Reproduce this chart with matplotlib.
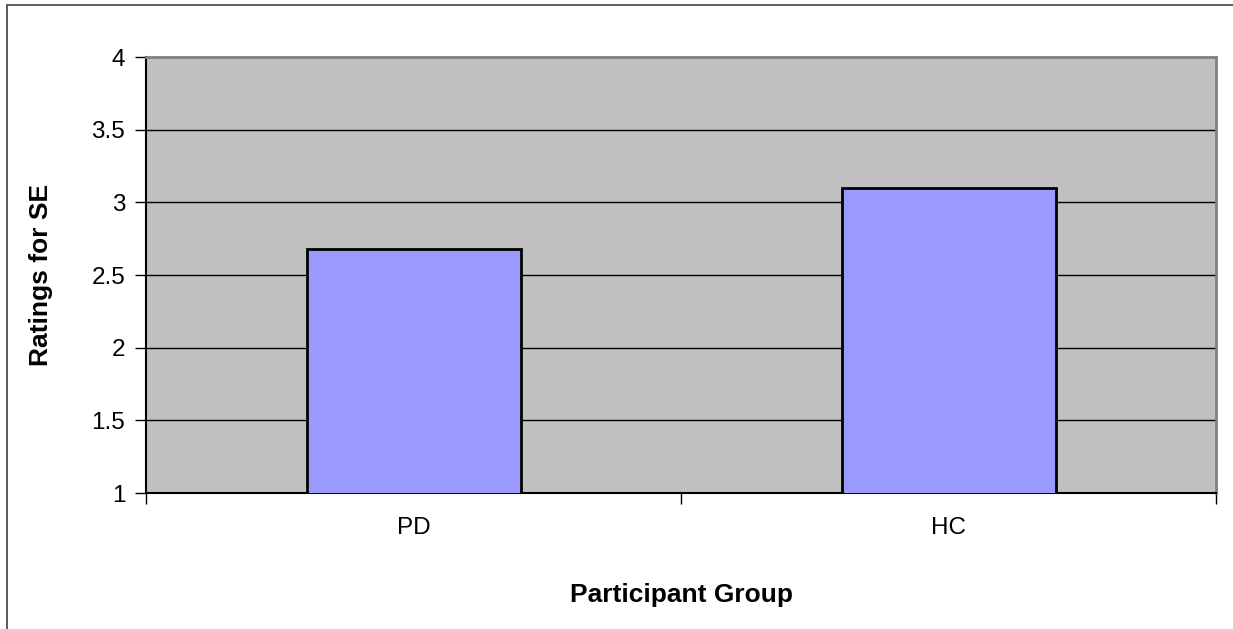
import numpy as np
import matplotlib.pyplot as plt
from matplotlib.patches import Rectangle

# ratings per participant group
groups = ["PD", "HC"]
ratings = [2.68, 3.10]
y_ticks = [1, 1.5, 2, 2.5, 3, 3.5, 4]
y_tick_labels = ["1", "1.5", "2", "2.5", "3", "3.5", "4"]

plt.rcParams['font.family'] = ['Liberation Sans', 'DejaVu Sans']

fig = plt.figure(figsize=(12.33, 6.29), dpi=100)
fig.patch.set_facecolor("white")

# outer chart border (runs off right and bottom)
fig.patches.append(Rectangle((7 / 1233, -0.1), 1.2, (629 - 5) / 629 + 0.1,
                             transform=fig.transFigure, fill=False,
                             edgecolor="#404040", linewidth=1.2))

ax = fig.add_axes([146 / 1233, 1 - 493 / 629, 1070 / 1233, 436 / 629])
ax.set_facecolor("#C0C0C0")

x = np.arange(len(groups))
ax.bar(x, ratings, bottom=0, width=0.4, color="#9999FF",
       edgecolor="black", linewidth=2, zorder=3)

ax.set_ylim(1, 4)
ax.set_xlim(-0.5, len(groups) - 0.5)
ax.set_yticks(y_ticks)
ax.set_yticklabels(y_tick_labels, fontsize=17.5)
for yv in y_ticks[1:-1]:
    ax.axhline(yv, color="black", linewidth=1, zorder=1)

# category boundary ticks on x axis, labels at centres
ax.set_xticks(np.arange(-0.5, len(groups), 1.0))
ax.set_xticklabels([])
ax.set_xticks(x, minor=True)
ax.set_xticklabels(groups, minor=True, fontsize=17.5)
ax.tick_params(axis="x", which="minor", length=0, pad=17)
ax.tick_params(axis="x", which="major", length=8, width=1, direction="out")
ax.tick_params(axis="y", length=8, width=1, direction="out", pad=7)

for side in ["top", "right"]:
    ax.spines[side].set_color("#808080")
    ax.spines[side].set_linewidth(2)
for side in ["left", "bottom"]:
    ax.spines[side].set_color("black")
    ax.spines[side].set_linewidth(1.5)

ax.set_xlabel("Participant Group", fontsize=19, fontweight="bold", labelpad=32)
ax.set_ylabel("Ratings for SE", fontsize=19, fontweight="bold", labelpad=28)

fig.savefig("out.png", dpi=100)
